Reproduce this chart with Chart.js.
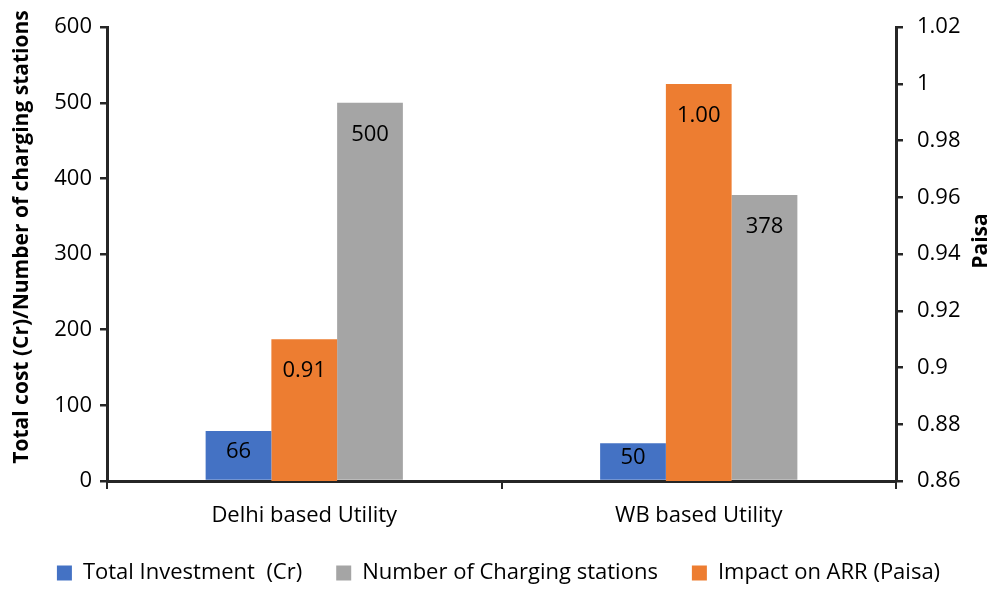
<!DOCTYPE html>
<html>
<head>
<meta charset="utf-8">
<title>Charging stations cost and ARR impact</title>
<script src="https://cdn.jsdelivr.net/npm/chart.js@4.4.1/dist/chart.umd.min.js"></script>
<style>
  html, body { margin: 0; padding: 0; background: #fff; }
  #wrap { width: 997px; height: 589px; }
</style>
</head>
<body>
<div id="wrap"><canvas id="chart"></canvas></div>
<script>
const utilities = ['Delhi based Utility', 'WB based Utility'];
const totalInvestment = [66, 50];
const chargingStations = [500, 378];
const arrImpact = [0.91, 1.00];

const leftTicks = { min: 0, max: 600, step: 100 };
const rightTicks = { min: 0.86, max: 1.02, step: 0.02 };

const FONT = '"Open Sans", "Noto Sans", sans-serif';
const AXIS = '#262626';

// value labels sit inside the top of each bar, or centred on short bars
const barLabels = {
    id: 'barLabels',
    afterDatasetsDraw(chart) {
        const ctx = chart.ctx;
        ctx.save();
        ctx.font = '22px ' + FONT;
        ctx.fillStyle = '#000';
        ctx.textAlign = 'center';
        ctx.textBaseline = 'middle';
        chart.data.datasets.forEach((ds, i) => {
            chart.getDatasetMeta(i).data.forEach((bar, j) => {
                const top = bar.y, base = bar.base;
                const y = Math.min(top + 32, (top + base) / 2 - 4);
                const v = ds.data[j];
                const txt = ds.yAxisID === 'y1' ? v.toFixed(2) : String(v);
                ctx.fillText(txt, bar.x, y);
            });
        });
        ctx.restore();
    }
};

// both axis titles read bottom-to-top
const axisTitles = {
    id: 'axisTitles',
    afterDraw(chart) {
        const ctx = chart.ctx;
        ctx.save();
        ctx.font = 'bold 21px ' + FONT;
        ctx.fillStyle = '#000';
        ctx.textAlign = 'center';
        ctx.textBaseline = 'middle';
        const titles = [
            ['Total cost (Cr)/Number of charging stations', 22, 237],
            ['Paisa', 981, 241]
        ];
        titles.forEach(([t, x, y]) => {
            ctx.save();
            ctx.translate(x, y);
            ctx.rotate(-Math.PI / 2);
            ctx.fillText(t, 0, 0);
            ctx.restore();
        });
        ctx.restore();
    }
};

// legend sits a little lower and the category labels get room below the axis
const layoutTweaks = {
    id: 'layoutTweaks',
    afterLayout(chart) {
        if (chart.legend) {
            chart.legend.top += 5;
            chart.legend.bottom += 5;
        }
        const x = chart.scales.x;
        x.bottom = x.top + 60;
    }
};

new Chart(document.getElementById('chart'), {
    type: 'bar',
    data: {
        labels: utilities,
        datasets: [
            { label: 'Total Investment  (Cr)', data: totalInvestment, backgroundColor: '#4472C4', yAxisID: 'y', order: 0 },
            { label: 'Number of Charging stations', data: chargingStations, backgroundColor: '#A5A5A5', yAxisID: 'y', order: 2 },
            { label: 'Impact on ARR (Paisa)', data: arrImpact, backgroundColor: '#ED7D31', yAxisID: 'y1', order: 1 }
        ]
    },
    options: {
        responsive: true,
        maintainAspectRatio: false,
        animation: false,
        categoryPercentage: 0.5,
        barPercentage: 1.0,
        layout: { padding: { top: 24, left: 0, right: 0, bottom: 0 } },
        plugins: {
            tooltip: { enabled: false },
            legend: {
                position: 'bottom',
                labels: {
                    font: { family: FONT, size: 22 },
                    color: '#000',
                    boxWidth: 15,
                    boxHeight: 15,
                    padding: 34,
                    sort: (a, b) => a.datasetIndex - b.datasetIndex
                }
            }
        },
        scales: {
            x: {
                offset: true,
                grid: { offset: true, drawOnChartArea: false, drawTicks: true, tickLength: 8, color: AXIS, lineWidth: 2 },
                border: { display: true, color: AXIS, width: 3 },
                ticks: { font: { family: FONT, size: 22 }, color: '#000', padding: 14 },
                afterFit: s => { s.height = 42; }
            },
            y: {
                position: 'left',
                min: leftTicks.min,
                max: leftTicks.max,
                grid: { drawOnChartArea: false, drawTicks: true, tickLength: 7, color: AXIS, lineWidth: 2.5 },
                border: { display: true, color: AXIS, width: 3 },
                ticks: { stepSize: leftTicks.step, font: { family: FONT, size: 22 }, color: '#000', padding: 8 },
                afterFit: s => { s.width = 107; }
            },
            y1: {
                position: 'right',
                min: rightTicks.min,
                max: rightTicks.max,
                grid: { drawOnChartArea: false, drawTicks: true, tickLength: 7, color: AXIS, lineWidth: 2.5 },
                border: { display: true, color: AXIS, width: 3 },
                ticks: {
                    stepSize: rightTicks.step,
                    font: { family: FONT, size: 22 },
                    color: '#000',
                    padding: 14,
                    callback: v => String(Number(v.toFixed(2)))
                },
                afterFit: s => { s.width = 101; }
            }
        }
    },
    plugins: [barLabels, axisTitles, layoutTweaks]
});
</script>
</body>
</html>
